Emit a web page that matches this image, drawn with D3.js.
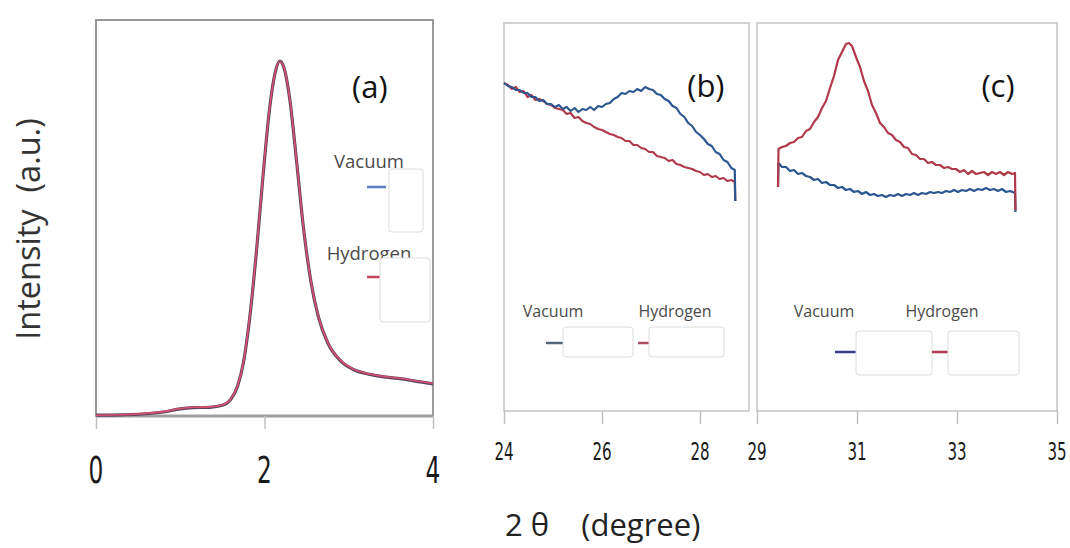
<!DOCTYPE html>
<html>
<head>
<meta charset="utf-8">
<script src="https://cdn.jsdelivr.net/npm/d3@7"></script>
<style>
  body { margin: 0; background: #fff; }
  svg { display: block; }
  .line { fill: none; stroke-linejoin: round; }
  .tick-label { font-family: "Liberation Sans Narrow", "DejaVu Sans Condensed", sans-serif; fill: #1a1a1a; }
  .legend-text { font-family: "Open Sans", "Noto Sans", sans-serif; fill: #4a4a4a; }
</style>
</head>
<body>
<div id="chart"></div>
<script>
// hard coded page size, same as the picture
var width = 1070, height = 548;

// panel (a) : small angle peak, both samples nearly identical
var a_vacuum = [
  [0.00, 0.2], [0.30, 0.3], [0.55, 0.5], [0.80, 1.0], [1.00, 1.8], [1.15, 2.1],
  [1.35, 2.2], [1.50, 2.7], [1.60, 4.2], [1.68, 7.5], [1.75, 13.5], [1.82, 24.0],
  [1.90, 40.5], [1.98, 60.0], [2.06, 77.5], [2.13, 87.0], [2.18, 89.6], [2.23, 88.0],
  [2.30, 80.0], [2.38, 64.5], [2.46, 48.0], [2.55, 34.0], [2.64, 25.0], [2.75, 18.5],
  [2.90, 14.0], [3.05, 11.8], [3.25, 10.5], [3.45, 9.8], [3.65, 9.3], [3.85, 8.6], [4.00, 8.1]
];
var a_hydrogen = [
  [0.00, 0.2], [0.30, 0.3], [0.55, 0.6], [0.80, 1.1], [1.00, 1.9], [1.15, 2.2],
  [1.35, 2.3], [1.50, 2.8], [1.60, 4.3], [1.68, 7.6], [1.75, 13.6], [1.82, 24.2],
  [1.90, 40.7], [1.98, 60.2], [2.06, 77.6], [2.13, 87.1], [2.18, 89.6], [2.23, 88.1],
  [2.30, 80.1], [2.38, 64.6], [2.46, 48.1], [2.55, 34.1], [2.64, 25.1], [2.75, 18.6],
  [2.90, 14.1], [3.05, 11.9], [3.25, 10.6], [3.45, 9.9], [3.65, 9.4], [3.85, 8.7], [4.00, 8.2]
];

// panel (b) : 24 - 29 degree
var b_vacuum = [
  [24.00, 328], [24.08, 325], [24.16, 324], [24.24, 321], [24.32, 321], [24.40, 318],
  [24.48, 318], [24.56, 314], [24.64, 314], [24.72, 310], [24.80, 311], [24.88, 307],
  [24.96, 307], [25.04, 304], [25.12, 306], [25.20, 302], [25.28, 304], [25.36, 300],
  [25.44, 303], [25.52, 299], [25.60, 302], [25.68, 301], [25.76, 304], [25.84, 301],
  [25.92, 305], [26.00, 304], [26.08, 307], [26.16, 308], [26.24, 312], [26.32, 314],
  [26.40, 318], [26.48, 317], [26.56, 320], [26.64, 319], [26.72, 322], [26.80, 320],
  [26.88, 324], [26.96, 322], [27.04, 321], [27.12, 317], [27.20, 316], [27.28, 312],
  [27.36, 310], [27.44, 305], [27.52, 303], [27.60, 297], [27.68, 294], [27.76, 288],
  [27.84, 285], [27.92, 279], [28.00, 276], [28.08, 272], [28.16, 267], [28.24, 265],
  [28.32, 259], [28.40, 257], [28.48, 251], [28.56, 249], [28.64, 243], [28.71, 241], [28.72, 210]
];
var b_hydrogen = [
  [24.00, 328], [24.08, 326], [24.16, 322], [24.24, 324], [24.32, 319], [24.40, 320],
  [24.48, 314], [24.56, 316], [24.64, 311], [24.72, 312], [24.80, 310], [24.88, 307],
  [24.96, 306], [25.04, 303], [25.12, 302], [25.20, 301], [25.28, 297], [25.36, 298],
  [25.44, 293], [25.52, 294], [25.60, 290], [25.68, 288], [25.76, 287], [25.84, 284],
  [25.92, 282], [26.00, 281], [26.08, 279], [26.16, 277], [26.24, 276], [26.32, 274],
  [26.40, 273], [26.48, 270], [26.56, 270], [26.64, 266], [26.72, 266], [26.80, 263],
  [26.88, 262], [26.96, 259], [27.04, 259], [27.12, 255], [27.20, 254], [27.28, 253],
  [27.36, 250], [27.44, 251], [27.52, 247], [27.60, 246], [27.68, 244], [27.76, 243],
  [27.84, 242], [27.92, 240], [28.00, 239], [28.08, 236], [28.16, 237], [28.24, 234],
  [28.32, 235], [28.40, 232], [28.48, 233], [28.56, 230], [28.64, 231], [28.71, 229], [28.72, 210]
];

// panel (c) : 29 - 35 degree
var c_vacuum = [
  [29.42, 224], [29.43, 248], [29.50, 244], [29.58, 244], [29.66, 240], [29.74, 241],
  [29.82, 237], [29.90, 238], [29.98, 235], [30.06, 234], [30.14, 231], [30.22, 232],
  [30.30, 228], [30.38, 229], [30.46, 226], [30.54, 226], [30.62, 223], [30.70, 224],
  [30.78, 221], [30.86, 222], [30.94, 219], [31.02, 220], [31.10, 217], [31.18, 219],
  [31.26, 216], [31.34, 217], [31.42, 215], [31.50, 216], [31.58, 214], [31.66, 216],
  [31.74, 215], [31.82, 217], [31.90, 215], [31.98, 217], [32.06, 216], [32.14, 218],
  [32.22, 216], [32.30, 218], [32.38, 217], [32.46, 219], [32.54, 218], [32.62, 219],
  [32.70, 218], [32.78, 220], [32.86, 219], [32.94, 221], [33.02, 219], [33.10, 221],
  [33.18, 220], [33.26, 222], [33.34, 220], [33.42, 222], [33.50, 221], [33.58, 223],
  [33.66, 221], [33.74, 222], [33.82, 220], [33.90, 222], [33.98, 219], [34.06, 220],
  [34.16, 218], [34.17, 199]
];
var c_hydrogen = [
  [29.42, 224], [29.43, 262], [29.50, 264], [29.58, 265], [29.66, 268], [29.74, 269],
  [29.82, 273], [29.90, 274], [29.98, 280], [30.06, 282], [30.14, 289], [30.22, 294],
  [30.30, 303], [30.38, 310], [30.46, 323], [30.54, 335], [30.62, 351], [30.70, 359],
  [30.78, 367], [30.84, 368], [30.90, 365], [30.98, 354], [31.06, 344], [31.14, 330],
  [31.22, 320], [31.30, 306], [31.38, 298], [31.46, 288], [31.54, 284], [31.62, 278],
  [31.70, 276], [31.78, 271], [31.86, 269], [31.94, 264], [32.02, 263], [32.10, 257],
  [32.18, 256], [32.26, 252], [32.34, 252], [32.42, 248], [32.50, 249], [32.58, 246],
  [32.66, 246], [32.74, 243], [32.82, 244], [32.90, 242], [32.98, 242], [33.06, 239],
  [33.14, 241], [33.22, 237], [33.30, 240], [33.38, 237], [33.46, 238], [33.54, 239],
  [33.62, 236], [33.70, 239], [33.78, 237], [33.86, 239], [33.94, 236], [34.02, 239],
  [34.10, 237], [34.16, 238], [34.17, 201]
];

// tick labels of the three x axes
var a_ticks = [0, 2, 4];
var b_ticks = [24, 26, 28];
var c_ticks = [29, 31, 33, 35];
var legendNames = ["Vacuum", "Hydrogen"];
var panelNames = ["(a)", "(b)", "(c)"];

var blue = "#2b5690", red = "#b0394a";

var svg = d3.select("#chart").append("svg")
    .attr("width", width)
    .attr("height", height);

// scales for each panel
var xA = d3.scaleLinear().domain([0, 4]).range([96, 433]);
var yA = d3.scaleLinear().domain([0, 100]).range([416, 20]);

var xB = d3.scaleLinear().domain([24, 29]).range([504, 749]);
var xC = d3.scaleLinear().domain([29, 35]).range([757, 1057]);
var yBC = d3.scaleLinear().domain([0, 389]).range([411, 22]);

// frame boxes
svg.append("rect")
    .attr("x", xA(0)).attr("y", yA(100))
    .attr("width", xA(4) - xA(0)).attr("height", yA(0) - yA(100))
    .attr("fill", "none").attr("stroke", "#9a9a9a").attr("stroke-width", 2);
svg.append("line")
    .attr("x1", xA(0)).attr("x2", xA(4)).attr("y1", yA(0)).attr("y2", yA(0))
    .attr("stroke", "#a0a0a0").attr("stroke-width", 3);

svg.append("rect")
    .attr("x", xB(24)).attr("y", yBC(388))
    .attr("width", xB(29) - xB(24)).attr("height", yBC(0) - yBC(388))
    .attr("fill", "none").attr("stroke", "#c4c4c4").attr("stroke-width", 1.5);
svg.append("rect")
    .attr("x", xC(29)).attr("y", yBC(388))
    .attr("width", xC(35) - xC(29)).attr("height", yBC(0) - yBC(388))
    .attr("fill", "none").attr("stroke", "#c4c4c4").attr("stroke-width", 1.5);

// x axes, ticks pointing down, labels drawn separately
function drawAxis(scale, ticks, y, size, labelY, sx) {
    var g = svg.append("g")
        .attr("transform", "translate(0," + y + ")")
        .call(d3.axisBottom(scale).tickValues(ticks).tickSize(13).tickFormat(""));
    g.select(".domain").remove();
    g.selectAll(".tick line").attr("stroke", "#c0c0c0").attr("stroke-width", 1.5);

    svg.selectAll(null)
        .data(ticks)
      .enter().append("text")
        .attr("class", "tick-label")
        .attr("text-anchor", "middle")
        .attr("transform", function(d) { return "translate(" + scale(d) + "," + labelY + ") scale(" + sx + ",1)"; })
        .style("font-size", size + "px")
        .text(function(d) { return d; });
}
drawAxis(xA, a_ticks, yA(0), 37, 483, 0.7);
drawAxis(xB, b_ticks, yBC(0), 24, 460, 0.7);
drawAxis(xC, c_ticks, yBC(0), 24, 460, 0.7);

// line generators
var lineA = d3.line().x(function(d) { return xA(d[0]); }).y(function(d) { return yA(d[1]); }).curve(d3.curveMonotoneX);
var lineB = d3.line().x(function(d) { return xB(d[0]); }).y(function(d) { return yBC(d[1]); });
var lineC = d3.line().x(function(d) { return xC(d[0]); }).y(function(d) { return yBC(d[1]); });

// panel (a) : dark vacuum line under the pink hydrogen line
svg.append("path").datum(a_vacuum).attr("class", "line")
    .attr("d", lineA).attr("stroke", "#5b4560").attr("stroke-width", 3.2);
svg.append("path").datum(a_hydrogen).attr("class", "line")
    .attr("d", lineA).attr("stroke", "#d9506f").attr("stroke-width", 1.6);

svg.append("path").datum(b_hydrogen).attr("class", "line")
    .attr("d", lineB).attr("stroke", red).attr("stroke-width", 2.2);
svg.append("path").datum(b_vacuum).attr("class", "line")
    .attr("d", lineB).attr("stroke", blue).attr("stroke-width", 2.2);

svg.append("path").datum(c_vacuum).attr("class", "line")
    .attr("d", lineC).attr("stroke", blue).attr("stroke-width", 2.2);
svg.append("path").datum(c_hydrogen).attr("class", "line")
    .attr("d", lineC).attr("stroke", red).attr("stroke-width", 2.2);

// panel letters
var letterPos = [[xA(3.25), 98], [xB(28.12), 97], [xC(33.82), 97]];
svg.selectAll(null)
    .data(panelNames)
  .enter().append("text")
    .attr("x", function(d, i) { return letterPos[i][0]; })
    .attr("y", function(d, i) { return letterPos[i][1]; })
    .attr("text-anchor", "middle")
    .style("font-family", "'Open Sans', 'Noto Sans', sans-serif")
    .style("font-size", "31px")
    .attr("fill", "#111")
    .text(function(d) { return d; });

// legends, each a name, a short stroke and an empty white box
function legendItem(name, tx, ty, lx1, lx2, ly, color, box, size) {
    svg.append("text").attr("class", "legend-text")
        .attr("x", tx).attr("y", ty).attr("text-anchor", "middle")
        .style("font-size", size + "px").text(name);
    svg.append("line")
        .attr("x1", lx1).attr("x2", lx2).attr("y1", ly).attr("y2", ly)
        .attr("stroke", color).attr("stroke-width", 2.5);
    svg.append("rect")
        .attr("x", box[0]).attr("y", box[1]).attr("width", box[2]).attr("height", box[3])
        .attr("rx", 3).attr("fill", "#fff").attr("stroke", "#dcdcdc").attr("stroke-width", 1);
}
legendItem(legendNames[0], 369, 168, 367, 386, 187, "#5a7fc0", [389, 169, 34, 63], 18.5);
legendItem(legendNames[1], 369, 260, 367, 381, 277, "#c4455e", [380, 258, 50, 64], 18.5);

legendItem(legendNames[0], 553, 317, 546, 563, 343, "#55657a", [563, 327, 70, 30], 16);
legendItem(legendNames[1], 675, 317, 638, 649, 343, "#b04a60", [649, 327, 75, 30], 16);

legendItem(legendNames[0], 824, 317, 835, 856, 352, "#3b3f8a", [856, 331, 76, 44], 16);
legendItem(legendNames[1], 942, 317, 932, 948, 352, "#b03c50", [948, 331, 71, 44], 16);

// axis titles
svg.append("text")
    .attr("transform", "translate(40,229) rotate(-90)")
    .attr("text-anchor", "middle")
    .style("font-family", "'Open Sans', 'Noto Sans', sans-serif")
    .style("font-size", "32.5px")
    .attr("fill", "#333")
    .attr("xml:space", "preserve")
    .text("Intensity  (a.u.)");

svg.append("text")
    .attr("x", 505).attr("y", 536)
    .attr("text-anchor", "start")
    .style("font-family", "'Open Sans', 'Noto Sans', sans-serif")
    .style("font-size", "31px")
    .attr("fill", "#222")
    .attr("xml:space", "preserve")
    .text("2 θ    (degree)");
</script>
</body>
</html>
